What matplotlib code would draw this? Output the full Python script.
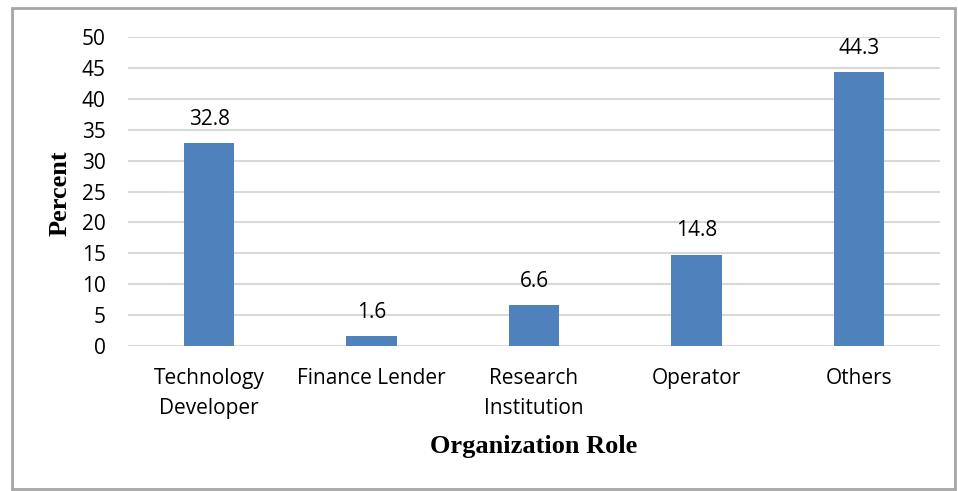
import matplotlib.pyplot as plt
from matplotlib.patches import Rectangle

# Dados do gráfico
roles = ['Technology\nDeveloper', 'Finance Lender', 'Research\nInstitution', 'Operator', 'Others']
percent = [32.8, 1.6, 6.6, 14.8, 44.3]
yticks = [0, 5, 10, 15, 20, 25, 30, 35, 40, 45, 50]

plt.rcParams['font.family'] = ['Open Sans', 'DejaVu Sans']

fig = plt.figure(figsize=(9.58, 4.91), dpi=100)
ax = fig.add_axes([128 / 958, 1 - 346 / 491, (940 - 128) / 958, (346 - 37) / 491])

x = range(len(roles))
bars = ax.bar(x, percent, width=0.31, color='#4F81BD', zorder=3)

# Rótulos de valor acima das barras
for b, v in zip(bars, percent):
    ax.annotate(f'{v}', (b.get_x() + b.get_width() / 2, v), xytext=(0, 9.5),
                textcoords='offset points', ha='center', va='bottom', fontsize=15)

ax.set_xlim(-0.5, len(roles) - 0.5)
ax.set_ylim(0, 50)
ax.set_yticks(yticks)
ax.set_xticks(list(x))
ax.set_xticklabels(roles, fontsize=15, linespacing=1.55)
ax.tick_params(axis='both', length=0, labelsize=15)
ax.tick_params(axis='x', pad=16)
ax.tick_params(axis='y', pad=16)
ax.grid(axis='y', color='#D9D9D9', linewidth=1.5, zorder=0)
for s in ax.spines.values():
    s.set_visible(False)

fig.text(60 / 958, 1 - 193 / 491, 'Percent', rotation=90, ha='center', va='center',
         fontsize=19, fontweight='bold', family='Liberation Serif')
fig.text(534 / 958, 1 - 446 / 491, 'Organization Role', ha='center', va='center',
         fontsize=19, fontweight='bold', family='Liberation Serif')

# Borda em volta da figura
fig.patches.append(Rectangle((12 / 958, 1 - 489 / 491), (955 - 12) / 958, (489 - 8) / 491,
                             transform=fig.transFigure, fill=False, edgecolor='#A6A6A6',
                             linewidth=2))

fig.savefig('out.png', dpi=100)
